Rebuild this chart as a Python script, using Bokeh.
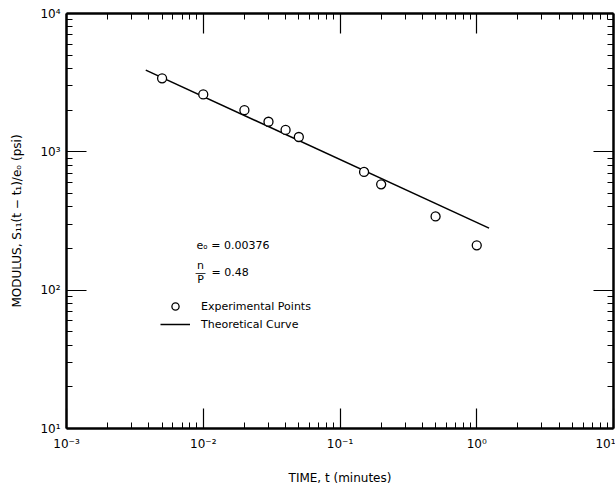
from bokeh.plotting import figure
from bokeh.models import LogAxis, FixedTicker, Label, Legend, LegendItem, Range1d
from bokeh.embed import file_html
from bokeh.resources import INLINE

# ---- data ----
time_min = [0.005, 0.01, 0.02, 0.03, 0.04, 0.05, 0.15, 0.2, 0.5, 1.0]
modulus_psi = [3400, 2600, 2000, 1650, 1440, 1280, 716, 582, 341, 211]
theory_time = [0.0038, 1.23]
theory_modulus = [3900, 281]

x_major = [1e-3, 1e-2, 1e-1, 1e0, 1e1]
x_labels = ["10⁻³", "10⁻²", "10⁻¹", "10⁰", "10¹"]
y_major = [1e1, 1e2, 1e3, 1e4]
y_labels = ["10¹", "10²", "10³", "10⁴"]
minor_mult = [2, 3, 4, 5, 6, 7, 8, 9]

FONT = "DejaVu Sans"

x_minor = [m * d for d in x_major[:-1] for m in minor_mult]
y_minor = [m * d for d in y_major[:-1] for m in minor_mult]

# frame geometry (pixels) used only to place annotations
L, R, T, B = 66, 613, 13, 431
def dx(px):
    return 10 ** (-3 + 4 * (px - L) / (R - L))
def dy(py):
    return 10 ** (4 - 3 * (py - T) / (B - T))

p = figure(width=615, height=487, x_axis_type="log", y_axis_type="log",
           x_range=Range1d(1e-3, 10), y_range=Range1d(10, 1e4),
           output_backend="svg", toolbar_location=None,
           min_border_left=L, min_border_right=615 - R,
           min_border_top=T, min_border_bottom=487 - B,
           background_fill_color="white", border_fill_color="white",
           outline_line_color=None)
p.grid.visible = False

def style(ax, ticks, minors, labels, show):
    ax.ticker = FixedTicker(ticks=ticks, minor_ticks=minors)
    ax.axis_line_width = 2.5
    ax.axis_line_color = "black"
    ax.major_tick_in = 20
    ax.major_tick_out = 0
    ax.minor_tick_in = 6
    ax.minor_tick_out = 0
    ax.major_tick_line_width = 1.2
    ax.minor_tick_line_width = 1
    ax.major_tick_line_color = "black"
    ax.minor_tick_line_color = "black"
    ax.major_label_text_font = FONT
    ax.major_label_text_font_size = "12px"
    if show:
        ax.major_label_overrides = {t: s for t, s in zip(ticks, labels)}
        ax.major_label_text_color = "black"
    else:
        ax.major_label_overrides = {t: "" for t in ticks}
        ax.major_label_text_color = None
        ax.major_label_standoff = 0

xb = p.xaxis[0]
yl = p.yaxis[0]
style(xb, x_major, x_minor, x_labels, True)
style(yl, y_major, y_minor, y_labels, True)
xb.major_label_standoff = 8
yl.major_label_standoff = 6

xb.axis_label = "TIME, t (minutes)"
yl.axis_label = "MODULUS, S₁₁(t − t₁)/eₒ (psi)"
for ax in (xb, yl):
    ax.axis_label_text_font = FONT
    ax.axis_label_text_font_size = "12px"
    ax.axis_label_text_font_style = "normal"
    ax.axis_label_text_color = "black"
xb.axis_label_standoff = 17
yl.axis_label_standoff = 13

xt = LogAxis()
yr = LogAxis()
style(xt, x_major, x_minor, x_labels, False)
style(yr, y_major, y_minor, y_labels, False)
p.add_layout(xt, "above")
p.add_layout(yr, "right")

r_line = p.line(theory_time, theory_modulus, line_color="black", line_width=1.5)
r_pts = p.scatter(time_min, modulus_psi, marker="circle", size=9,
                  fill_color="white", line_color="black", line_width=1.3)

legend = Legend(items=[LegendItem(label="Experimental Points", renderers=[r_pts]),
                       LegendItem(label="Theoretical Curve", renderers=[r_line])],
                location=(160 - L, B - 336),
                border_line_color=None, background_fill_alpha=0,
                padding=0, margin=0, spacing=0,
                glyph_width=30, glyph_height=18, label_height=18,
                label_standoff=11, label_text_font=FONT,
                label_text_font_size="11px", label_text_color="black")
p.add_layout(legend)

def lab(px, py, text, align="left"):
    p.add_layout(Label(x=dx(px), y=dy(py), text=text, text_font=FONT,
                       text_font_size="11px", text_color="black",
                       text_align=align, text_baseline="middle"))

lab(196, 247, "eₒ = 0.00376")
lab(200, 267, "n", "center")
lab(200, 274, "—", "center")
lab(200, 281, "P", "center")
lab(211, 274, "= 0.48")

open("out.html", "w").write(file_html(p, INLINE))
